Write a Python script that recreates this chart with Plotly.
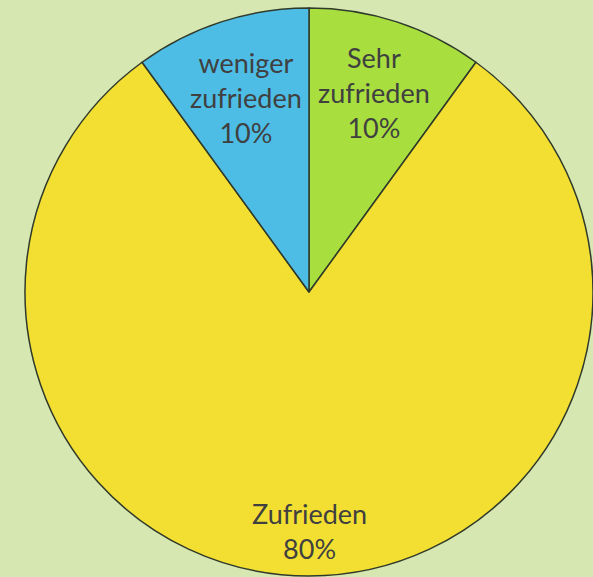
import math
import plotly.graph_objects as go

labels = ["Sehr zufrieden", "Zufrieden", "weniger zufrieden"]
label_text = ["Sehr<br>zufrieden", "Zufrieden", "weniger<br>zufrieden"]
values = [10, 80, 10]
colors = ["#a8de3e", "#f3df32", "#4dbde6"]

W, H = 593, 577
cx_px, cy_px, r_px = 309, 292, 284
dom_x = [(cx_px - r_px) / W, (cx_px + r_px) / W]
dom_y = [1 - (cy_px + r_px) / H, 1 - (cy_px - r_px) / H]

fig = go.Figure(go.Pie(
    labels=labels, values=values, sort=False, direction="clockwise", rotation=0,
    marker=dict(colors=colors, line=dict(color="#2f3a2a", width=1.5)),
    textinfo="none", hoverinfo="label+percent", showlegend=False,
    domain=dict(x=dom_x, y=dom_y),
))

total = sum(values)
radial = [0.74, 0.84, 0.72]
cum = 0
for lab, v, rf in zip(label_text, values, radial):
    mid = (cum + v / 2) / total * 2 * math.pi
    cum += v
    dx = math.sin(mid) * r_px * rf
    dy = -math.cos(mid) * r_px * rf
    fig.add_annotation(
        x=(cx_px + dx) / W, y=1 - (cy_px + dy) / H, xref="paper", yref="paper",
        text=f"{lab}<br>{round(v / total * 100)}%", showarrow=False,
        font=dict(family="Lato, sans-serif", size=27, color="#404040"),
        xanchor="center", yanchor="middle",
    )

fig.update_layout(
    width=W, height=H, margin=dict(l=0, r=0, t=0, b=0),
    paper_bgcolor="#d7e7b1", plot_bgcolor="#d7e7b1",
)
fig.write_html(
    "out.html",
    config={"displayModeBar": False},
    post_script="document.body.style.margin='0px';document.body.style.background='#d7e7b1';",
)
